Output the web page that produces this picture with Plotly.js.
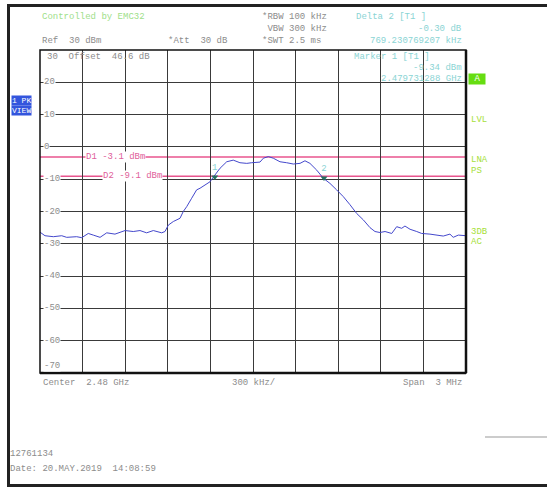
<!DOCTYPE html>
<html>
<head>
<meta charset="utf-8">
<script src="https://cdn.plot.ly/plotly-3.0.1.min.js"></script>
<style>html,body{margin:0;padding:0;background:#fff;}#chart{width:547px;height:487px;}</style>
</head>
<body>
<div id="chart"></div>
<script>
// ---- data ----
const freqMHz = [2478.500, 2478.535, 2478.594, 2478.653, 2478.688, 2478.758, 2478.794, 2478.840, 2478.875, 2478.923,
  2478.970, 2479.028, 2479.099, 2479.157, 2479.204, 2479.251, 2479.298, 2479.357, 2479.380, 2479.404,
  2479.439, 2479.486, 2479.509, 2479.533, 2479.568, 2479.603, 2479.627, 2479.697, 2479.732, 2479.768,
  2479.815, 2479.861, 2479.908, 2479.956, 2479.991, 2480.049, 2480.073, 2480.108, 2480.143, 2480.190,
  2480.237, 2480.284, 2480.331, 2480.366, 2480.401, 2480.449, 2480.495, 2480.542, 2480.589, 2480.636,
  2480.683, 2480.730, 2480.777, 2480.824, 2480.859, 2480.894, 2480.930, 2480.977, 2481.012, 2481.047,
  2481.070, 2481.106, 2481.153, 2481.188, 2481.246, 2481.294, 2481.340, 2481.387, 2481.410, 2481.446, 2481.500];
const levelDbm = [-26.4, -27.5, -27.8, -27.5, -28.0, -27.8, -28.1, -26.8, -27.3, -28.0,
  -26.6, -27.0, -25.9, -26.2, -25.9, -26.6, -25.9, -26.6, -26.2, -24.2,
  -23.1, -22.1, -20.0, -18.5, -15.9, -13.3, -12.8, -10.8, -8.7, -6.6,
  -4.6, -4.1, -4.9, -5.1, -4.9, -4.7, -3.5, -3.0, -3.5, -4.6,
  -4.9, -5.3, -5.1, -4.3, -5.1, -7.2, -9.7, -11.3, -13.3, -15.4,
  -17.9, -20.6, -22.6, -25.0, -26.2, -26.5, -26.2, -26.8, -24.7, -25.2,
  -24.5, -25.5, -26.2, -26.8, -27.0, -27.3, -27.6, -27.0, -28.0, -27.3, -27.5];

const markerFreq = [2479.731, 2480.500];
const markerLevel = [-9.34, -9.64];
const markerLabel = ['1', '2'];

const displayLineNames = ['D1', 'D2'];
const displayLineLevels = [-3.1, -9.1];

const yTickValues = [20, 10, 0, -10, -20, -30, -40, -50, -60, -70];

const xStart = 2478.5, xEnd = 2481.5;
const yBottom = -70, yTop = 30;

// ---- geometry helpers (pixel -> paper) ----
const W = 547, H = 487;
const L = 40, R = 466, T = 50, B = 373;
const px = x => (x - L) / (R - L);
const py = y => (B - y) / (B - T);

const FONT = 'Liberation Mono, DejaVu Sans Mono, monospace';
const GRAY = '#8c8c8c', TEAL = '#8ad4d4', GREEN = '#9ee08a', LGREEN = '#a6e03a', PINK = '#e0609a';

function txt(x, y, text, color, anchor, extra) {
  return Object.assign({
    xref: 'paper', yref: 'paper', x: px(x), y: py(y), text: text, showarrow: false,
    xanchor: anchor || 'left', yanchor: 'middle',
    font: {family: FONT, size: 9, color: color}
  }, extra || {});
}

const annotations = [
  txt(40, 17, 'Controlled by EMC32', GREEN),
  txt(40, 41, 'Ref  30 dBm', GRAY),
  txt(166, 41, '*Att  30 dB', GRAY),
  txt(260, 17, '*RBW 100 kHz', GRAY),
  txt(260, 29, ' VBW 300 kHz', GRAY),
  txt(260, 41, '*SWT 2.5 ms', GRAY),
  txt(354, 17, 'Delta 2 [T1 ]', TEAL),
  txt(464, 29, '-0.30 dB', TEAL, 'right'),
  txt(464, 41, '769.230769207 kHz', TEAL, 'right'),
  txt(45, 57, '30  Offset  46.6 dB', GRAY),
  txt(352, 57, 'Marker 1 [T1 ]', TEAL),
  txt(464, 68, '-9.34 dBm', TEAL, 'right'),
  txt(464, 79, '2.479731288 GHz', TEAL, 'right'),
  txt(468, 79, ' A ', '#ffffff', 'left', {bgcolor: '#66dd11', borderpad: 0}),
  txt(11, 100, '1 PK', '#ffffff', 'left', {bgcolor: '#3355dd', borderpad: 0, font: {family: FONT, size: 8, color: '#ffffff'}}),
  txt(11, 110, 'VIEW', '#ffffff', 'left', {bgcolor: '#3355dd', borderpad: 0, font: {family: FONT, size: 8, color: '#ffffff'}}),
  txt(469, 120, 'LVL', LGREEN),
  txt(469, 160, 'LNA', LGREEN),
  txt(469, 171, 'PS', LGREEN),
  txt(469, 232, '3DB', LGREEN),
  txt(469, 242, 'AC', LGREEN),
  txt(41, 383, 'Center  2.48 GHz', GRAY),
  txt(230, 383, '300 kHz/', GRAY),
  txt(464, 383, 'Span  3 MHz', GRAY, 'right'),
  txt(8, 454, '12761134', GRAY),
  txt(8, 469, 'Date: 20.MAY.2019  14:08:59', GRAY)
];

// y tick labels inside the plot
yTickValues.forEach(v => {
  const yPix = B - (v - yBottom) / (yTop - yBottom) * (B - T);
  const yy = (v === yBottom) ? yPix - 7 : yPix;
  annotations.push(txt(43, yy, String(v), GRAY, 'left', {bgcolor: '#ffffff', borderpad: 0}));
});

// display line labels
const dLabelX = [85, 102];
displayLineNames.forEach((n, i) => {
  annotations.push({
    xref: 'paper', yref: 'y', x: px(dLabelX[i]), y: displayLineLevels[i],
    text: n + ' ' + displayLineLevels[i].toFixed(1) + ' dBm', showarrow: false,
    xanchor: 'left', yanchor: 'middle', bgcolor: '#ffffff', borderpad: 0,
    font: {family: FONT, size: 9, color: PINK}
  });
});

const shapes = [];
displayLineLevels.forEach(v => {
  shapes.push({type: 'line', xref: 'paper', yref: 'y', x0: 0, x1: 1, y0: v, y1: v,
    line: {color: '#e8558e', width: 1.5}, layer: 'below'});
});
// outer printout frame
shapes.push({type: 'line', xref: 'paper', yref: 'paper', x0: px(8.5), x1: px(8.5), y0: py(4), y1: py(487), line: {color: '#222', width: 3}});
shapes.push({type: 'line', xref: 'paper', yref: 'paper', x0: px(7), x1: px(547), y0: py(5.5), y1: py(5.5), line: {color: '#222', width: 3}});
shapes.push({type: 'line', xref: 'paper', yref: 'paper', x0: px(7), x1: px(547), y0: py(485.5), y1: py(485.5), line: {color: '#222', width: 3}});
shapes.push({type: 'line', xref: 'paper', yref: 'paper', x0: px(485), x1: px(547), y0: py(437), y1: py(437), line: {color: '#999', width: 1}});
// plot frame (thicker bottom/right)
shapes.push({type: 'rect', xref: 'paper', yref: 'paper', x0: 0, x1: 1, y0: 0, y1: 1, line: {color: '#111', width: 1.5}});
shapes.push({type: 'line', xref: 'paper', yref: 'paper', x0: 0, x1: 1, y0: 0, y1: 0, line: {color: '#111', width: 2.5}});
shapes.push({type: 'line', xref: 'paper', yref: 'paper', x0: 1, x1: 1, y0: 0, y1: 1, line: {color: '#111', width: 2.5}});

const traces = [
  {x: freqMHz, y: levelDbm, type: 'scatter', mode: 'lines', line: {color: '#4448cc', width: 1}, hoverinfo: 'skip'},
  {x: markerFreq, y: markerLevel, type: 'scatter', mode: 'markers+text', text: markerLabel,
   textposition: 'top center', textfont: {family: FONT, size: 9, color: TEAL},
   marker: {symbol: 'triangle-down', size: 6, color: '#23705f'}, hoverinfo: 'skip'}
];

const layout = {
  width: W, height: H,
  margin: {l: L, r: W - R, t: T, b: H - B, pad: 0},
  paper_bgcolor: '#ffffff', plot_bgcolor: '#ffffff',
  showlegend: false,
  xaxis: {range: [xStart, xEnd], tick0: xStart, dtick: 0.3, showticklabels: false, ticks: '',
    showgrid: true, gridcolor: '#3a3a3a', gridwidth: 1, zeroline: false, showline: false, fixedrange: true},
  yaxis: {range: [yBottom, yTop], tick0: yBottom, dtick: 10, showticklabels: false, ticks: '',
    showgrid: true, gridcolor: '#3a3a3a', gridwidth: 1, zeroline: false, showline: false, fixedrange: true},
  annotations: annotations,
  shapes: shapes
};

Plotly.newPlot('chart', traces, layout, {displayModeBar: false, staticPlot: true});
</script>
</body>
</html>
